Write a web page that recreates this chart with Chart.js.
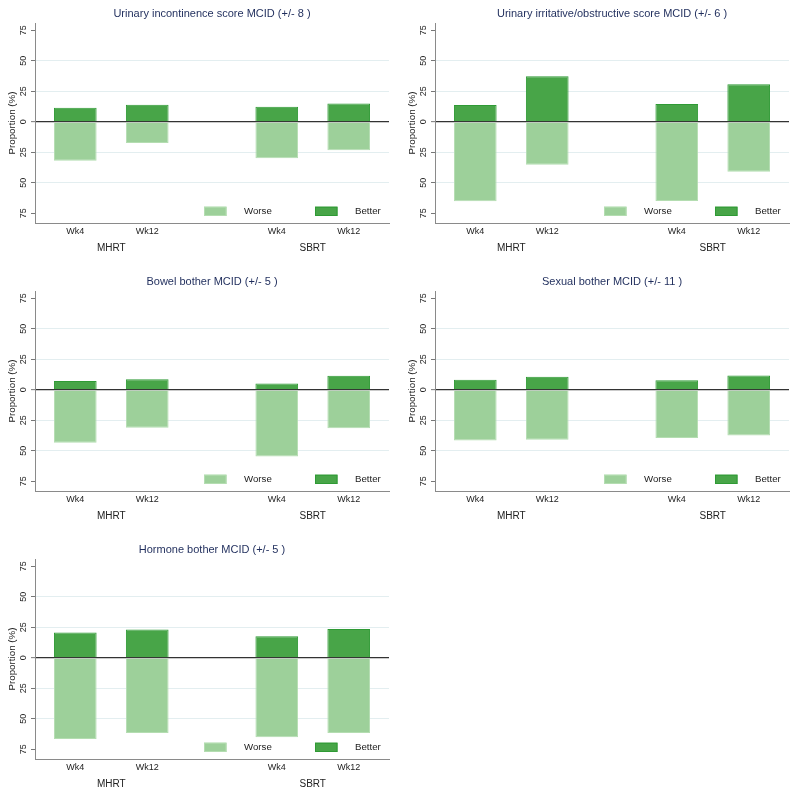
<!DOCTYPE html>
<html>
<head>
<meta charset="utf-8">
<script src="https://cdn.jsdelivr.net/npm/chart.js@4.4.0/dist/chart.umd.min.js"></script>
<style>
  body { margin: 0; background: #fff; width: 800px; height: 795px; position: relative; overflow: hidden; }
  .panel { position: absolute; width: 400px; height: 259px; }
</style>
</head>
<body>
<div class="panel" style="left:0;top:0"><canvas id="c0" width="400" height="259"></canvas></div>
<div class="panel" style="left:400px;top:0"><canvas id="c1" width="400" height="259"></canvas></div>
<div class="panel" style="left:0;top:267.5px"><canvas id="c2" width="400" height="259"></canvas></div>
<div class="panel" style="left:400px;top:267.5px"><canvas id="c3" width="400" height="259"></canvas></div>
<div class="panel" style="left:0;top:535.5px"><canvas id="c4" width="400" height="259"></canvas></div>
<script>
const weeks = ['Wk4', 'Wk12', 'Wk4', 'Wk12'];
const arms = ['MHRT', 'SBRT'];
const weekPos = [1, 2, 3.8, 4.8];
const armPos = [1.5, 4.3];
const yTickValues = [-75, -50, -25, 0, 25, 50, 75];

const titles = [
  'Urinary incontinence score MCID (+/- 8 )',
  'Urinary irritative/obstructive score MCID (+/- 6 )',
  'Bowel bother MCID (+/- 5 )',
  'Sexual bother MCID (+/- 11 )',
  'Hormone bother MCID (+/- 5 )'
];

// % better / % worse, order: MHRT Wk4, MHRT Wk12, SBRT Wk4, SBRT Wk12
const betterIncont = [11.5, 14, 12.3, 15];
const worseIncont = [32, 17.5, 29.9, 23.3];
const betterIrrit = [13.7, 37.3, 14.5, 30.7];
const worseIrrit = [65.2, 35.3, 65, 41];
const betterBowel = [7.1, 8.7, 5.2, 11.5];
const worseBowel = [43.4, 31.1, 54.8, 31.6];
const betterSexual = [8.2, 10.6, 7.9, 11.7];
const worseSexual = [41.5, 40.9, 39.5, 37.4];
const betterHormone = [20.7, 23.2, 17.7, 23.5];
const worseHormone = [66.5, 61.6, 65.2, 61.6];

const betterAll = [betterIncont, betterIrrit, betterBowel, betterSexual, betterHormone];
const worseAll = [worseIncont, worseIrrit, worseBowel, worseSexual, worseHormone];

const FONT = '"Liberation Sans", Arial, Helvetica, sans-serif';
Chart.defaults.font.family = FONT;
Chart.defaults.color = '#222';

// title above plot region + legend inside the plot, bottom right
const panelDecor = {
  id: 'panelDecor',
  afterDraw(chart, args, opts) {
    const { ctx, chartArea } = chart;
    ctx.save();
    ctx.font = '11px ' + FONT;
    ctx.fillStyle = '#1f2d5c';
    ctx.textAlign = 'center';
    ctx.textBaseline = 'middle';
    ctx.fillText(opts.text, (chartArea.left + chartArea.right) / 2, chartArea.top - 9);

    const sets = chart.data.datasets;
    let x = chartArea.right - 185;
    const y = chartArea.bottom - 16.3;
    sets.forEach(ds => {
      ctx.fillStyle = ds.backgroundColor;
      ctx.fillRect(x, y, 22.5, 9.3);
      ctx.strokeStyle = ds.borderColor;
      ctx.lineWidth = 1;
      ctx.strokeRect(x + 0.5, y + 0.5, 21.5, 8.3);
      ctx.fillStyle = '#222';
      ctx.font = '9.7px ' + FONT;
      ctx.textAlign = 'left';
      ctx.fillText(ds.label, x + 40, y + 5);
      x += 111;
    });
    ctx.restore();
  }
};

function makePanel(i) {
  const better = betterAll[i];
  const worse = worseAll[i];
  new Chart(document.getElementById('c' + i), {
    type: 'bar',
    data: {
      datasets: [
        {
          label: 'Worse',
          data: weekPos.map((x, k) => ({ x: x, y: -worse[k] })),
          backgroundColor: '#9dd09a',
          borderColor: '#b4ddb1',
          borderWidth: 1
        },
        {
          label: 'Better',
          data: weekPos.map((x, k) => ({ x: x, y: better[k] })),
          backgroundColor: '#48a548',
          borderColor: '#2f9a35',
          borderWidth: 1
        }
      ]
    },
    options: {
      responsive: false,
      animation: false,
      barPercentage: 0.593,
      categoryPercentage: 1,
      layout: { padding: { top: 23, right: 11, left: 0, bottom: 0 } },
      plugins: {
        legend: { display: false },
        title: { display: false },
        tooltip: { enabled: false },
        panelDecor: { text: titles[i] }
      },
      scales: {
        x: {
          type: 'linear',
          min: 0.44,
          max: 5.36,
          offset: false,
          stacked: true,
          weight: 0,
          grid: { display: false, drawTicks: false, offset: false },
          border: { display: true, color: '#8a8a8a', width: 1 },
          afterBuildTicks: s => { s.ticks = weekPos.map(v => ({ value: v })); },
          afterFit: s => { s.height = 17; },
          ticks: {
            autoSkip: false,
            maxRotation: 0,
            padding: 3,
            font: { size: 9 },
            color: '#222',
            callback: (v, k) => weeks[k]
          }
        },
        x2: {
          type: 'linear',
          position: 'bottom',
          min: 0.44,
          max: 5.36,
          offset: false,
          weight: 1,
          grid: { display: false, drawTicks: false },
          border: { display: false },
          afterBuildTicks: s => { s.ticks = armPos.map(v => ({ value: v })); },
          afterFit: s => { s.height = 19; },
          ticks: {
            autoSkip: false,
            maxRotation: 0,
            padding: 2,
            font: { size: 10 },
            color: '#222',
            callback: (v, k) => arms[k]
          }
        },
        y: {
          min: -83,
          max: 81,
          stacked: true,
          afterBuildTicks: s => { s.ticks = yTickValues.map(v => ({ value: v })); },
          afterFit: s => { s.width = 35; },
          border: { display: true, color: '#8a8a8a', width: 1 },
          grid: {
            color: c => c.tick.value === 0 ? '#333' : (Math.abs(c.tick.value) === 75 ? 'rgba(0,0,0,0)' : '#e3eef0'),
            lineWidth: c => c.tick.value === 0 ? 1.3 : 1,
            tickColor: '#777',
            tickWidth: 1,
            tickLength: 4
          },
          ticks: {
            minRotation: 90,
            maxRotation: 90,
            crossAlign: 'center',
            padding: 2,
            font: { size: 9 },
            color: '#222',
            callback: v => Math.abs(v)
          },
          title: {
            display: true,
            text: 'Proportion (%)',
            font: { size: 9.8 },
            color: '#222',
            padding: { top: 6, bottom: 0 }
          }
        }
      }
    },
    plugins: [panelDecor]
  });
}

for (let i = 0; i < titles.length; i++) makePanel(i);
</script>
</body>
</html>
